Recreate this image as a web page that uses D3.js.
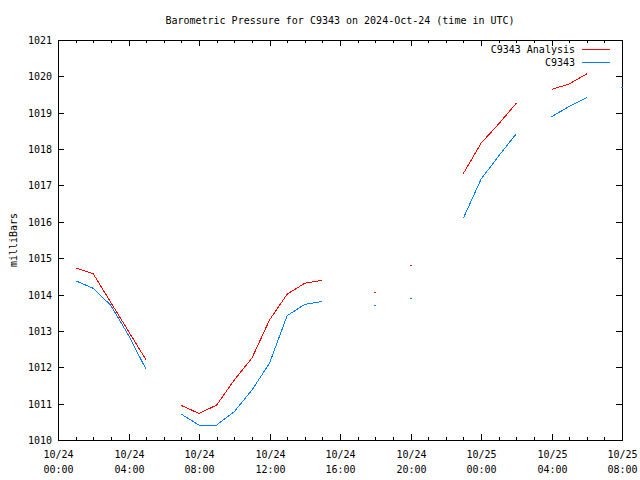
<!DOCTYPE html>
<html><head><meta charset="utf-8">
<script src="https://cdn.jsdelivr.net/npm/d3@7"></script>
<style>
body{margin:0;background:#fff;}
text{font-family:"DejaVu Sans Mono",monospace;font-size:10px;fill:#000;}
</style></head>
<body>
<svg id="c" width="640" height="480"></svg>
<script>
const hours = d3.range(0, 33);
const analysis = [null, 1014.73, 1014.57, 1013.78, 1012.99, 1012.20, null, 1010.95, 1010.73, 1010.96, 1011.65, 1012.25, 1013.30, 1014.01, 1014.31, 1014.39, null, null, 1014.06, null, 1014.80, null, null, 1017.33, 1018.16, 1018.69, 1019.26, null, 1019.64, 1019.79, 1020.07, null, null];
const observed = [null, 1014.38, 1014.17, 1013.70, 1012.88, 1011.94, null, 1010.71, 1010.41, 1010.41, 1010.78, 1011.37, 1012.11, 1013.42, 1013.73, 1013.81, null, null, 1013.70, null, 1013.90, null, null, 1016.10, 1017.17, 1017.81, 1018.42, null, 1018.89, 1019.17, 1019.42, null, 1019.72];
const yTicks = [1010, 1011, 1012, 1013, 1014, 1015, 1016, 1017, 1018, 1019, 1020, 1021];
const seriesNames = ["C9343 Analysis", "C9343"];
const seriesColors = ["#ff0000", "#0080ff"];
const titleText = "Barometric Pressure for C9343 on 2024-Oct-24 (time in UTC)";
const yLabel = "milliBars";

const t0 = Date.UTC(2024, 9, 24, 0, 0);
const times = hours.map(h => new Date(t0 + h * 3600e3));

const L = 58, R = 622, T = 40, B = 440;
const svg = d3.select("#c");
const x = d3.scaleUtc().domain([times[0], times[32]]).range([L, R]);
const y = d3.scaleLinear().domain([1010, 1021]).range([B, T]);

const majorTicks = d3.utcHour.every(4).range(times[0], new Date(+times[32] + 1));
const minorTicks = d3.utcMinute.every(80).range(times[0], new Date(+times[32] + 1)).filter(d => (+d - t0) % (4 * 3600e3) !== 0);

const g = svg.append("g").attr("shape-rendering", "crispEdges");
// frame
g.append("rect").attr("x", L + 0.5).attr("y", T + 0.5).attr("width", R - L).attr("height", B - T)
  .attr("fill", "none").attr("stroke", "#000");

// y ticks
yTicks.forEach(v => {
  const yy = Math.round(y(v)) + 0.5;
  g.append("line").attr("x1", L).attr("x2", L + 6).attr("y1", yy).attr("y2", yy).attr("stroke", "#000");
  g.append("line").attr("x1", R - 6).attr("x2", R).attr("y1", yy).attr("y2", yy).attr("stroke", "#000");
  svg.append("text").attr("x", L - 6).attr("y", yy).attr("dy", "0.35em").attr("text-anchor", "end").text(v);
});

// x ticks
const fmt1 = d3.utcFormat("%m/%d"), fmt2 = d3.utcFormat("%H:%M");
majorTicks.forEach(d => {
  const xx = Math.round(x(d)) + 0.5;
  g.append("line").attr("x1", xx).attr("x2", xx).attr("y1", B).attr("y2", B - 6).attr("stroke", "#000");
  g.append("line").attr("x1", xx).attr("x2", xx).attr("y1", T).attr("y2", T + 6).attr("stroke", "#000");
  const t = svg.append("text").attr("x", xx).attr("y", B + 18).attr("text-anchor", "middle");
  t.append("tspan").attr("x", xx).text(fmt1(d));
  t.append("tspan").attr("x", xx).attr("dy", 15).text(fmt2(d));
});
minorTicks.forEach(d => {
  const xx = Math.round(x(d)) + 0.5;
  g.append("line").attr("x1", xx).attr("x2", xx).attr("y1", B).attr("y2", B - 3).attr("stroke", "#000");
  g.append("line").attr("x1", xx).attr("x2", xx).attr("y1", T).attr("y2", T + 3).attr("stroke", "#000");
});

// series
[analysis, observed].forEach((vals, i) => {
  const data = hours.map((h, k) => ({t: times[k], v: vals[k]}));
  const line = d3.line().defined(d => d.v != null).x(d => x(d.t)).y(d => y(d.v));
  g.append("path").datum(data).attr("d", line).attr("fill", "none")
    .attr("stroke", seriesColors[i]).attr("stroke-width", 1);
  data.forEach((d, k) => {
    if (d.v == null) return;
    const prev = k > 0 ? data[k - 1].v : null, next = k < data.length - 1 ? data[k + 1].v : null;
    if (prev == null && next == null) {
      g.append("rect").attr("x", Math.round(x(d.t)) - 1).attr("y", Math.round(y(d.v)))
        .attr("width", 2).attr("height", 1).attr("fill", seriesColors[i]);
    }
  });
});

// legend
seriesNames.forEach((n, i) => {
  const ly = 49 + i * 13;
  svg.append("text").attr("x", 575).attr("y", ly).attr("dy", "0.35em").attr("text-anchor", "end").text(n);
  g.append("line").attr("x1", 582).attr("x2", 610).attr("y1", ly + 0.5).attr("y2", ly + 0.5)
    .attr("stroke", seriesColors[i]);
});

// title & label
svg.append("text").attr("x", 340).attr("y", 20).attr("dy", "0.35em").attr("text-anchor", "middle").text(titleText);
svg.append("text").attr("transform", "translate(13,240) rotate(-90)").attr("text-anchor", "middle")
  .attr("dy", "0.35em").text(yLabel);
</script>
</body></html>
